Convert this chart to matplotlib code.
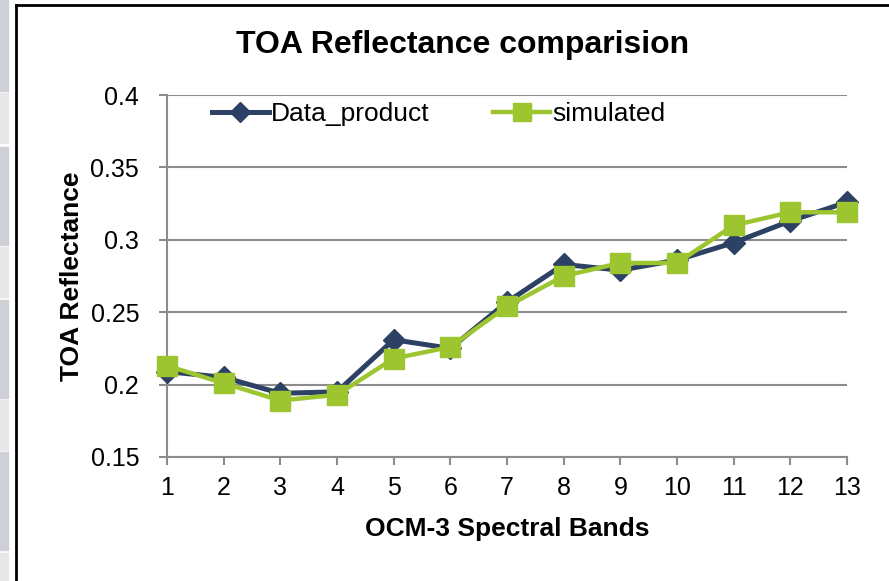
import matplotlib.pyplot as plt
from matplotlib.patches import Rectangle
from matplotlib.lines import Line2D

plt.rcParams['font.family'] = ['Liberation Sans', 'DejaVu Sans']

# Data
bands = [1, 2, 3, 4, 5, 6, 7, 8, 9, 10, 11, 12, 13]
data_product = [0.209, 0.205, 0.194, 0.195, 0.231, 0.225, 0.257, 0.283, 0.279, 0.286, 0.298, 0.313, 0.326]
simulated = [0.213, 0.201, 0.189, 0.193, 0.218, 0.226, 0.254, 0.275, 0.284, 0.284, 0.310, 0.319, 0.319]
y_ticks = [0.15, 0.2, 0.25, 0.3, 0.35, 0.4]
y_labels = ['0.15', '0.2', '0.25', '0.3', '0.35', '0.4']

navy = '#2c4163'
green = '#9dc530'
grid_gray = '#8c8c8c'

fig = plt.figure(figsize=(8.89, 5.81), dpi=100)

# screenshot decoration: gray strip on the left and the chart frame
strip = [(0, 91, '#cdd0d4'), (93, 143, '#e6e7e9'), (147, 245, '#cdd0d4'),
         (247, 297, '#e6e7e9'), (300, 398, '#cdd0d4'), (400, 450, '#e6e7e9'),
         (452, 550, '#cdd0d4'), (553, 581, '#e6e7e9')]
for y0, y1, c in strip:
    fig.patches.append(Rectangle((0, 1 - y1 / 581), 8 / 889, (y1 - y0) / 581,
                                 transform=fig.transFigure, color=c, zorder=0))
fig.lines.append(Line2D([15.5 / 889, 15.5 / 889], [0, 1 - 5 / 581], transform=fig.transFigure,
                        color='black', lw=2))
fig.lines.append(Line2D([15.5 / 889, 1], [1 - 5 / 581, 1 - 5 / 581], transform=fig.transFigure,
                        color='black', lw=2))

ax = fig.add_axes([167 / 889, 1 - 457 / 581, 680 / 889, 362 / 581])

ax.plot(bands, data_product, color=navy, lw=3.6, marker='D', ms=11,
        label='Data_product', zorder=3, clip_on=False)
ax.plot(bands, simulated, color=green, lw=3.2, marker='s', ms=14.5,
        label='simulated', zorder=4, clip_on=False)

ax.set_xlim(1, 13)
ax.set_ylim(0.15, 0.4)
ax.set_xticks(bands)
ax.set_yticks(y_ticks)
ax.set_yticklabels(y_labels)
ax.grid(axis='y', color=grid_gray, lw=1.5)
ax.set_axisbelow(True)

for s in ['top', 'right']:
    ax.spines[s].set_visible(False)
for s in ['left', 'bottom']:
    ax.spines[s].set_color(grid_gray)
    ax.spines[s].set_linewidth(1.5)
ax.tick_params(axis='both', direction='out', length=6, width=1.5, color=grid_gray,
               labelsize=18)
ax.tick_params(axis='y', pad=14)
ax.tick_params(axis='x', pad=8)

ax.set_xlabel('OCM-3 Spectral Bands', fontsize=19, fontweight='bold')
ax.set_ylabel('TOA Reflectance', fontsize=19, fontweight='bold')
ax.xaxis.set_label_coords(0.5, -0.166)
ax.yaxis.set_label_coords(-0.122, 0.5)
fig.text(463 / 889, 1 - 45 / 581, 'TOA Reflectance comparision', fontsize=23,
         fontweight='bold', ha='center', va='center')

ax.legend(loc='center left', bbox_to_anchor=(0.066, 0.947), ncol=2, frameon=False,
          fontsize=19, handlelength=2.15, handletextpad=0.1, columnspacing=2.4,
          borderaxespad=0, borderpad=0, markerscale=0.9)

fig.savefig('out.png', dpi=100)
